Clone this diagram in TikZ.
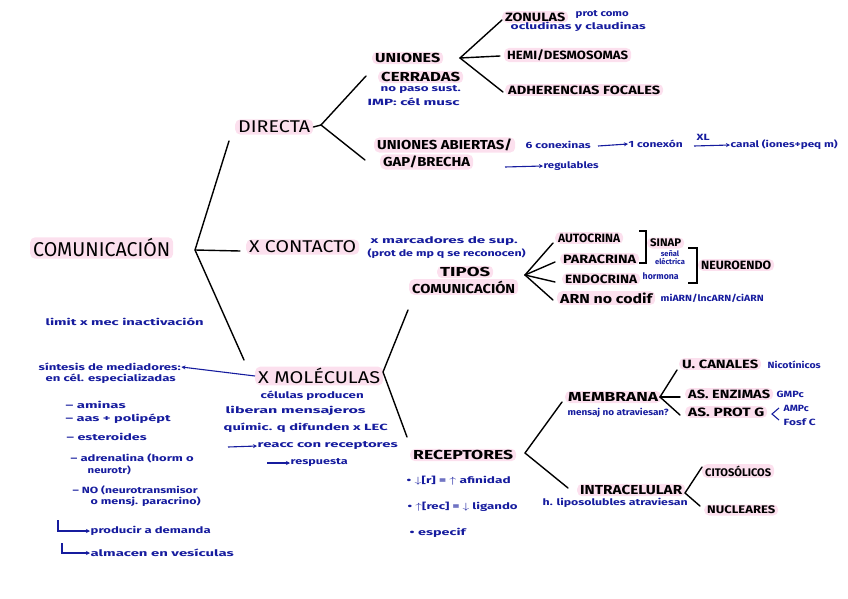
\documentclass[tikz,border=0pt]{standalone}
\usepackage{fontspec}
\usepackage{graphicx}
\setmainfont{Fira Sans}
\usetikzlibrary{arrows.meta}
\definecolor{pinkhl}{RGB}{252,224,238}
\definecolor{navy}{RGB}{22,28,158}
\newcommand\fw[2]{\resizebox{#1pt}{\height}{#2}}
\tikzset{
  hl/.style={fill=pinkhl, rounded corners=5pt, inner xsep=3pt, inner ysep=1.5pt, anchor=west, text=black},
  bl/.style={text=navy, inner sep=0.5pt, anchor=west, font=\fontsize{9}{10}\selectfont\bfseries},
  ln/.style={line width=1.4pt, black, line cap=round},
  bar/.style={line width=1.1pt, navy, -{Stealth[length=4pt,width=4pt]}},
  brk/.style={line width=1.3pt, black},
  f20/.style={font=\fontsize{20}{22}\selectfont},
  f17/.style={font=\fontsize{17}{19}\selectfont},
  f13/.style={font=\fontsize{13}{15}\selectfont\bfseries},
  f12/.style={font=\fontsize{12}{14}\selectfont\bfseries},
  f11/.style={font=\fontsize{11}{13}\selectfont\bfseries},
  f10/.style={font=\fontsize{10}{12}\selectfont\bfseries},
}
\begin{document}
\begin{tikzpicture}[x=1pt,y=-1pt]
\useasboundingbox (0,0) rectangle (848,599);
% ---------- main nodes ----------
\node[hl,f20] (com) at (30,248) {\fw{137}{COMUNICACIÓN}};
\node[hl,f17] (dir) at (235,127) {\fw{72}{DIRECTA}};
\node[hl,f17] (cont) at (246,247) {\fw{107}{X CONTACTO}};
\node[hl,f17] (mol) at (255,376) {\fw{122}{X MOLÉCULAS}};
% directa
\node[hl,f13] (uc1) at (372,58) {\fw{65}{UNIONES}};
\node[hl,f13] (uc2) at (378,77) {\fw{79}{CERRADAS}};
\node[bl] (uc3) at (380,90) {\fw{80}{no paso sust.}};
\node[bl] (uc4) at (367,102) {\fw{92}{IMP: cél musc}};
\node[hl,f12] (zon) at (502,17) {\fw{60}{ZONULAS}};
\node[bl] (zon1) at (575,15) {\fw{53}{prot como}};
\node[bl] (zon2) at (510,27) {\fw{135}{ocludinas y claudinas}};
\node[hl,f12] (hemi) at (504,55) {\fw{121}{HEMI/DESMOSOMAS}};
\node[hl,f12] (adh) at (505,90) {\fw{152}{ADHERENCIAS FOCALES}};
\node[hl,f13] (ua1) at (374,145) {\fw{135}{UNIONES ABIERTAS/}};
\node[hl,f13] (ua2) at (380,162) {\fw{87}{GAP/BRECHA}};
\node[bl] (cx1) at (525,145) {\fw{65}{6 conexinas}};
\node[bl] (cx2) at (628,144) {\fw{54}{1 conexón}};
\node[bl] (cx3) at (730,145) {\fw{107}{canal (iones+peq m)}};
\node[bl] (xl) at (696,137) {\fw{13}{XL}};
\node[bl] (reg) at (543,166) {\fw{55}{regulables}};
% contacto
\node[bl] (mar1) at (370,241) {\fw{147}{x marcadores de sup.}};
\node[bl] (mar2) at (367,254) {\fw{158}{(prot de mp q se reconocen)}};
\node[hl,f13] (tip1) at (437,272) {\fw{50}{TIPOS}};
\node[hl,f13] (tip2) at (409,287) {\fw{103}{COMUNICACIÓN}};
\node[hl,f12] (auto) at (555,238) {\fw{62}{AUTOCRINA}};
\node[hl,f12] (para) at (560,259) {\fw{73}{PARACRINA}};
\node[hl,f12] (endo) at (562,279) {\fw{72}{ENDOCRINA}};
\node[hl,f13] (arn) at (557,298) {\fw{92}{ARN no codif}};
\node[bl] (arn1) at (660,298) {\fw{103}{miARN/lncARN/ciARN}};
\node[hl,f11] (sin) at (647,243) {\fw{31}{SINAP}};
\node[bl,anchor=center,align=center,font=\fontsize{7.5}{8}\selectfont\bfseries] (sen) at (670,258) {señal\\eléctrica};
\node[bl] (hor) at (642,276) {\fw{36}{hormona}};
\node[hl,f12] (neu) at (698,265) {\fw{70}{NEUROENDO}};
% moleculas
\node[bl] (lim) at (45,322) {\fw{158}{limit x mec inactivación}};
\node[bl] (sin1) at (38,367) {\fw{142}{síntesis de mediadores:}};
\node[bl] (sin2) at (45,379) {\fw{130}{en cél. especializadas}};
\node[bl] (l1) at (65,405) {\fw{60}{– aminas}};
\node[bl] (l2) at (65,419) {\fw{105}{– aas + polipépt}};
\node[bl] (l3) at (66,437) {\fw{80}{– esteroides}};
\node[bl] (l4) at (70,458) {\fw{123}{– adrenalina (horm o}};
\node[bl] (l4b) at (87,470) {\fw{43}{neurotr)}};
\node[bl] (l5) at (72,490) {\fw{125}{– NO (neurotransmisor}};
\node[bl] (l5b) at (90,502) {\fw{110}{o mensj. paracrino)}};
\node[bl] (dem) at (90,531) {\fw{120}{producir a demanda}};
\node[bl] (alm) at (90,553) {\fw{143}{almacen en vesículas}};
\node[bl] (m1) at (260,396) {\fw{103}{células producen}};
\node[bl] (m2) at (225,411) {\fw{140}{liberan mensajeros}};
\node[bl] (m3) at (223,428) {\fw{164}{químic. q difunden x LEC}};
\node[bl] (m4) at (257,446) {\fw{140}{reacc con receptores}};
\node[bl] (m5) at (290,463) {\fw{57}{respuesta}};
% receptores
\node[hl,f13] (rec) at (410,455) {\fw{100}{RECEPTORES}};
\node[bl] (r1) at (406,481) {\fw{104}{• $\downarrow$[r] = $\uparrow$ afinidad}};
\node[bl] (r2) at (407,507) {\fw{110}{• $\uparrow$[rec] = $\downarrow$ ligando}};
\node[bl] (r3) at (409,533) {\fw{56}{• especif}};
\node[hl,f13] (mem) at (565,397) {\fw{90}{MEMBRANA}};
\node[bl] (mem1) at (567,413) {\fw{101}{mensaj no atraviesan?}};
\node[hl,f12] (can) at (679,364) {\fw{76}{U. CANALES}};
\node[bl] (can1) at (767,365) {\fw{53}{Nicotínicos}};
\node[hl,f12] (enz) at (685,394) {\fw{82}{AS. ENZIMAS}};
\node[bl] (enz1) at (776,394) {\fw{27}{GMPc}};
\node[hl,f12] (prg) at (685,412) {\fw{76}{AS. PROT G}};
\node[bl] (prg1) at (783,408) {\fw{25}{AMPc}};
\node[bl] (prg2) at (783,422) {\fw{32}{Fosf C}};
\node[hl,f13] (intr) at (577,490) {\fw{102}{INTRACELULAR}};
\node[bl] (intr1) at (542,503) {\fw{145}{h. liposolubles atraviesan}};
\node[hl,f11] (cit) at (702,471) {\fw{66}{CITOSÓLICOS}};
\node[hl,f11] (nuc) at (704,510) {\fw{68}{NUCLEARES}};
% ---------- connector points ----------
\coordinate (j0) at (195,250);
\coordinate (jdir) at (229,141);
\coordinate (jcont) at (240,251);
\coordinate (jmol) at (244,360);
\coordinate (j1) at (321,125);
\coordinate (juc) at (366,76);
\coordinate (jua) at (365,160);
\coordinate (j2) at (460,58);
\coordinate (jzon) at (502,20);
\coordinate (jhemi) at (500,56);
\coordinate (jadh) at (503,92);
\coordinate (j3) at (525,275);
\coordinate (jau) at (553,243);
\coordinate (jpa) at (555,262);
\coordinate (jen) at (555,282);
\coordinate (jar) at (553,300);
\coordinate (j4) at (383,372);
\coordinate (jtip) at (408,310);
\coordinate (jrec) at (407,437);
\coordinate (j5) at (525,453);
\coordinate (jmem) at (562,402);
\coordinate (jint) at (568,488);
\coordinate (j6) at (660,397);
\coordinate (jcan) at (677,370);
\coordinate (jenz) at (680,397);
\coordinate (jprg) at (680,415);
\coordinate (j7) at (685,493);
\coordinate (jcit) at (702,467);
\coordinate (jnuc) at (700,506);
% ---------- connectors ----------
\draw[ln] (jdir) -- (j0) -- (jmol);
\draw[ln] (j0) -- (jcont);
\draw[ln] (juc) -- (j1) -- (jua);
\draw[ln] (j1) -- (dir.east);
\draw[ln] (jzon) -- (j2) -- (jadh);
\draw[ln] (j2) -- (jhemi);
\draw[ln] (jau) -- (j3) -- (jar);
\draw[ln] (j3) -- (jpa);
\draw[ln] (j3) -- (jen);
\draw[ln] (jtip) -- (j4) -- (jrec);
\draw[ln] (jmem) -- (j5) -- (jint);
\draw[ln] (jcan) -- (j6) -- (jprg);
\draw[ln] (j6) -- (jenz);
\draw[ln] (jcit) -- (j7) -- (jnuc);
% brackets
\draw[brk] (639,231) -- (646,231) -- (646,263) -- (639,263);
\draw[brk] (688,248) -- (697,248) -- (697,283) -- (688,283);
\draw[line width=1.1pt, navy] (779,408) -- (772,414) -- (779,420);
% blue arrows
\draw[bar] (598,146) -- (cx2.west);
\draw[bar] (694,146) -- (cx3.west);
\draw[bar] (505,167) -- (reg.west);
\draw[bar] (mol.west) -- (sin1.east);
\draw[bar] (228,447) -- (m4.west);
\draw[bar] (267,463) -- (m5.west);
\draw[bar] (58,520) |- (dem.west);
\draw[bar] (62,543) |- (alm.west);
\end{tikzpicture}
\end{document}
